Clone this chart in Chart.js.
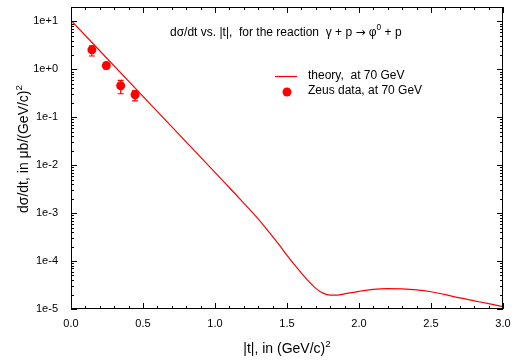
<!DOCTYPE html>
<html>
<head>
<meta charset="utf-8">
<script src="https://cdn.jsdelivr.net/npm/chart.js@4/dist/chart.umd.min.js"></script>
<style>
  html, body { margin: 0; padding: 0; background: #fff; }
</style>
</head>
<body>
<canvas id="chart" width="516" height="364"></canvas>
<script>
// theory curve
const theoryT = [0.0, 0.5, 1.0, 1.1, 1.2, 1.3, 1.35, 1.4, 1.45, 1.5, 1.55, 1.6, 1.65, 1.7, 1.75, 1.8, 1.85, 1.9, 2.0, 2.1, 2.2, 2.3, 2.4, 2.5, 2.6, 2.7, 2.8, 2.9, 3.0];
const theoryY = [10.5, 0.272, 7.08e-3, 3.39e-3, 1.62e-3, 7.59e-4, 5.01e-4, 3.24e-4, 2.09e-4, 1.32e-4, 8.51e-5, 5.62e-5, 3.8e-5, 2.69e-5, 2.14e-5, 1.95e-5, 1.95e-5, 2.07e-5, 2.34e-5, 2.57e-5, 2.66e-5, 2.63e-5, 2.51e-5, 2.29e-5, 2.0e-5, 1.7e-5, 1.48e-5, 1.29e-5, 1.12e-5];

// Zeus points with error bars
const zeusT = [0.145, 0.245, 0.345, 0.445];
const zeusY = [2.55, 1.2, 0.455, 0.295];
const zeusHi = [3.1, 1.38, 0.59, 0.36];
const zeusLo = [1.9, 1.02, 0.31, 0.22];

const xTicks = [0, 0.5, 1.0, 1.5, 2.0, 2.5, 3.0];
const yTicks = [1e-5, 1e-4, 1e-3, 1e-2, 1e-1, 1e0, 1e1];

const RED = '#ff0000';
const FONT = '"Liberation Sans", Arial, sans-serif';

function richWidth(ctx, parts, size) {
  let w = 0;
  parts.forEach(([txt, sup, fam]) => {
    ctx.font = (sup ? size * 0.7 : size) + 'px ' + (fam || FONT);
    w += ctx.measureText(txt).width;
  });
  return w;
}

function drawRich(ctx, parts, x, y, size) {
  let cx = x;
  parts.forEach(([txt, sup, fam]) => {
    ctx.font = (sup ? size * 0.7 : size) + 'px ' + (fam || FONT);
    ctx.fillText(txt, cx, sup ? y - size * 0.42 : y);
    cx += ctx.measureText(txt).width;
  });
}

const decor = {
  id: 'decor',
  afterDatasetsDraw(chart) {
    // error bars
    const ctx = chart.ctx, xs = chart.scales.x, ys = chart.scales.y;
    ctx.save();
    ctx.strokeStyle = RED;
    ctx.lineWidth = 1.2;
    zeusT.forEach((t, i) => {
      const px = xs.getPixelForValue(t);
      const hi = ys.getPixelForValue(zeusHi[i]);
      const lo = ys.getPixelForValue(zeusLo[i]);
      ctx.beginPath();
      ctx.moveTo(px, hi); ctx.lineTo(px, lo);
      ctx.moveTo(px - 3, hi); ctx.lineTo(px + 3, hi);
      ctx.moveTo(px - 3, lo); ctx.lineTo(px + 3, lo);
      ctx.stroke();
    });
    ctx.restore();
  },
  afterDraw(chart) {
    const ctx = chart.ctx, a = chart.chartArea;
    const xs = chart.scales.x, ys = chart.scales.y;
    ctx.save();
    ctx.strokeStyle = '#000';
    ctx.lineWidth = 1;
    ctx.strokeRect(a.left + 0.5, a.top + 0.5, a.right - a.left - 1, a.bottom - a.top - 1);

    // inward ticks, x (top and bottom)
    ctx.beginPath();
    for (let i = 0; i <= 30; i++) {
      const px = Math.round(xs.getPixelForValue(i / 10)) + 0.5;
      const len = i % 5 === 0 ? 6 : 3;
      ctx.moveTo(px, a.bottom); ctx.lineTo(px, a.bottom - len);
      ctx.moveTo(px, a.top); ctx.lineTo(px, a.top + len);
    }
    // inward ticks, y (left and right)
    for (let e = -5; e <= 1; e++) {
      for (let m = 1; m <= 9; m++) {
        const v = m * Math.pow(10, e);
        if (v > ys.max) continue;
        const py = Math.round(ys.getPixelForValue(v)) + 0.5;
        const len = m === 1 ? 6 : 3;
        ctx.moveTo(a.left, py); ctx.lineTo(a.left + len, py);
        ctx.moveTo(a.right, py); ctx.lineTo(a.right - len, py);
      }
    }
    ctx.stroke();

    ctx.fillStyle = '#000';
    ctx.textBaseline = 'middle';

    // title inside the plot
    drawRich(ctx, [
      ['d\u03c3/dt vs. |t|,  for the reaction  \u03b3 + p '],
      ['\u2192', false, '"DejaVu Sans", sans-serif'],
      [' \u03c6'], ['0', true], [' + p']
    ], 170, 33, 12);

    // legend
    ctx.strokeStyle = RED;
    ctx.lineWidth = 1.2;
    ctx.beginPath();
    ctx.moveTo(275, 76.5); ctx.lineTo(297, 76.5);
    ctx.stroke();
    ctx.fillStyle = RED;
    ctx.beginPath();
    ctx.arc(287, 92, 4.5, 0, Math.PI * 2);
    ctx.fill();
    ctx.fillStyle = '#000';
    ctx.font = '12px ' + FONT;
    ctx.fillText('theory,  at 70 GeV', 308, 76);
    ctx.fillText('Zeus data, at 70 GeV', 308, 91);

    // axis titles
    ctx.textBaseline = 'alphabetic';
    const xt = [['|t|, in (GeV/c)'], ['2', true]];
    const xw = richWidth(ctx, xt, 14);
    drawRich(ctx, xt, (a.left + a.right) / 2 - xw / 2, 353, 14);

    ctx.translate(28, 213);
    ctx.rotate(-Math.PI / 2);
    drawRich(ctx, [['d\u03c3/dt, in \u03bcb/(GeV/c)'], ['2', true]], 0, 0, 14);
    ctx.restore();
  }
};

new Chart(document.getElementById('chart'), {
  type: 'line',
  data: {
    datasets: [{
      label: 'theory,  at 70 GeV',
      data: theoryT.map((t, i) => ({ x: t, y: theoryY[i] })),
      borderColor: RED,
      borderWidth: 1.2,
      pointRadius: 0,
      cubicInterpolationMode: 'monotone',
      fill: false
    }, {
      label: 'Zeus data, at 70 GeV',
      data: zeusT.map((t, i) => ({ x: t, y: zeusY[i] })),
      showLine: false,
      pointRadius: 4.5,
      pointBackgroundColor: RED,
      pointBorderWidth: 0,
      borderColor: RED
    }]
  },
  options: {
    responsive: false,
    animation: false,
    layout: { padding: { left: 0, right: 13, top: 7, bottom: 0 } },
    plugins: { legend: { display: false }, tooltip: { enabled: false } },
    scales: {
      x: {
        type: 'linear',
        min: 0, max: 3,
        grid: { display: false, drawTicks: false },
        border: { display: false },
        afterBuildTicks: s => { s.ticks = xTicks.map(v => ({ value: v })); },
        afterFit: s => { s.height = 55; s.paddingLeft = 0; s.paddingRight = 0; },
        ticks: {
          padding: 8,
          color: '#000',
          font: { family: FONT, size: 11 },
          maxRotation: 0,
          callback: v => Number(v).toFixed(1)
        }
      },
      y: {
        type: 'logarithmic',
        min: 1e-5, max: 20,
        grid: { display: false, drawTicks: false },
        border: { display: false },
        afterBuildTicks: s => { s.ticks = yTicks.map(v => ({ value: v })); },
        afterFit: s => { s.width = 71; s.paddingTop = 0; s.paddingBottom = 0; },
        ticks: {
          padding: 13,
          color: '#000',
          font: { family: FONT, size: 11 },
          callback: v => {
            const e = Math.round(Math.log10(v));
            return '1e' + (e >= 0 ? '+' : '-') + Math.abs(e);
          }
        }
      }
    }
  },
  plugins: [decor]
});
</script>
</body>
</html>
